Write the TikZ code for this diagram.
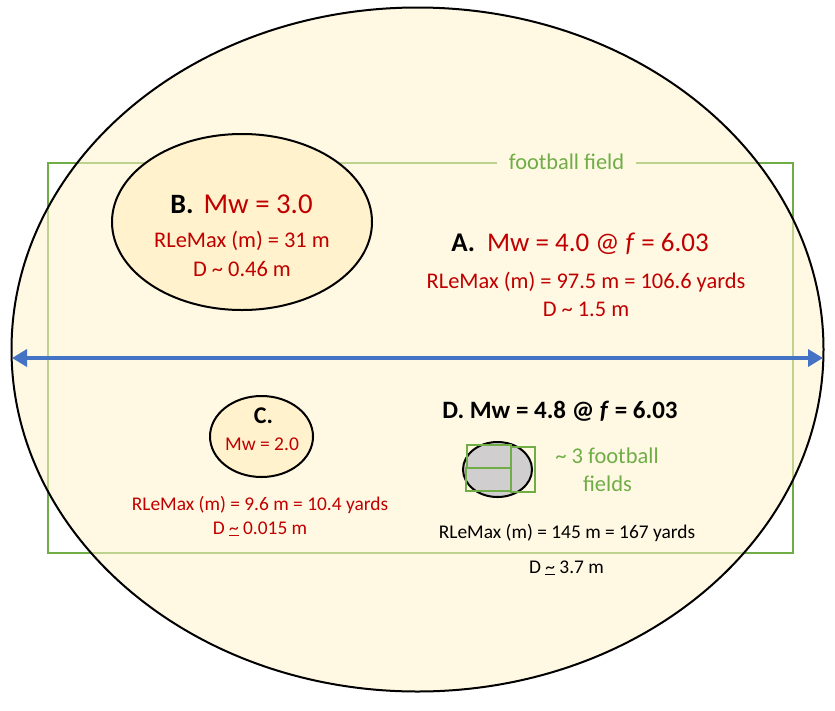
\documentclass[tikz,border=0pt]{standalone}
\usepackage{fontspec}
\setmainfont{Carlito}
\usetikzlibrary{shapes.geometric}
\usetikzlibrary{arrows.meta}
\definecolor{rouge}{HTML}{C00000}
\definecolor{vert}{HTML}{70AD47}
\definecolor{bleu}{HTML}{4472C4}
\definecolor{jaune}{HTML}{FFF2CC}
\definecolor{creme}{HTML}{FFF8E3}
\definecolor{gris}{HTML}{D0CECE}
\newcommand\taille[1]{\fontsize{#1}{#1}\selectfont}

\begin{document}
\begin{tikzpicture}[x=1pt,y=-1pt]
\tikzstyle{zone}=[ellipse,draw=black,line width=2pt,inner sep=0pt]
\tikzstyle{terrain}=[rectangle,draw=vert,line width=1.6pt,inner sep=0pt]
\tikzstyle{texte}=[anchor=base,inner sep=0pt]
\tikzstyle{fleche}=[<->,>={Triangle[length=15pt,width=17pt]},draw=bleu,line width=3.5pt]
\useasboundingbox (0,0) rectangle (835,710);
% terrain de football
\node[terrain,minimum width=745pt,minimum height=390pt] (champ) at (420.5,358) {};
\node[zone,fill=jaune,fill opacity=0.55,minimum width=812pt,minimum height=684pt] (zoneA) at (417.5,349.5) {};
\node[texte,fill=creme,inner xsep=12pt,text=vert] (nomchamp) at (566.5,169) {\taille{22.4}football field};
% zones B et C
\node[zone,fill=jaune,minimum width=260pt,minimum height=176pt] (zoneB) at (242,222) {};
\node[zone,fill=jaune,minimum width=103pt,minimum height=81pt] (zoneC) at (261.5,436.5) {};
% A
\node[texte] (titreA) at (580,251) {\taille{27}\textbf{A.}\hspace{12pt}\textcolor{rouge}{Mw = 4.0 @ \textit{f} = 6.03}};
\node[texte,text=rouge] (rayonA) at (586,288) {\taille{22.4}RLeMax (m) = 97.5 m = 106.6 yards};
\node[texte,text=rouge] (diamA) at (586,316) {\taille{22.4}D \textasciitilde{} 1.5 m};
% B
\node[texte] (titreB) at (241.5,213) {\taille{28}\textbf{B.}\hspace{10pt}{\taille{28.8}\textcolor{rouge}{Mw = 3.0}}};
\node[texte,text=rouge] (rayonB) at (242,247) {\taille{22.4}RLeMax (m) = 31 m};
\node[texte,text=rouge] (diamB) at (242,276) {\taille{22.4}D \textasciitilde{} 0.46 m};
% C
\node[texte] (titreC) at (263.5,423) {\taille{24}\textbf{C.}};
\node[texte,text=rouge] (mwC) at (262,450) {\taille{19.5}Mw = 2.0};
\node[texte,text=rouge] (rayonC) at (260,510) {\taille{19.4}RLeMax (m) = 9.6 m = 10.4 yards};
\node[texte,text=rouge] (diamC) at (260,534) {\taille{19.4}D \underline{\textasciitilde} 0.015 m};
% D
\node[texte] (titreD) at (560,418) {\taille{25}\textbf{D. Mw = 4.8 @ \textit{f} = 6.03}};
\node[zone,fill=gris,minimum width=69pt,minimum height=55pt] (zoneD) at (497.5,469.5) {};
\draw[vert,line width=2pt] (467,445) rectangle (511,468);
\draw[vert,line width=2pt] (466,468) rectangle (511,491);
\draw[vert,line width=2pt] (511,447) rectangle (535,492);
\node[texte,text=vert] (troisD) at (607,463) {\taille{22.5}\textasciitilde{} 3 football};
\node[texte,text=vert] (champsD) at (607.5,491) {\taille{22.5}fields};
\node[texte] (rayonD) at (567,538) {\taille{19.4}RLeMax (m) = 145 m = 167 yards};
\node[texte] (diamD) at (566.5,573) {\taille{19.4}D \underline{\textasciitilde} 3.7 m};
%fleche
\coordinate (gauche) at (12,358);
\coordinate (droite) at (823,358);
\draw[fleche] (gauche)--(droite);
\end{tikzpicture}
\end{document}
